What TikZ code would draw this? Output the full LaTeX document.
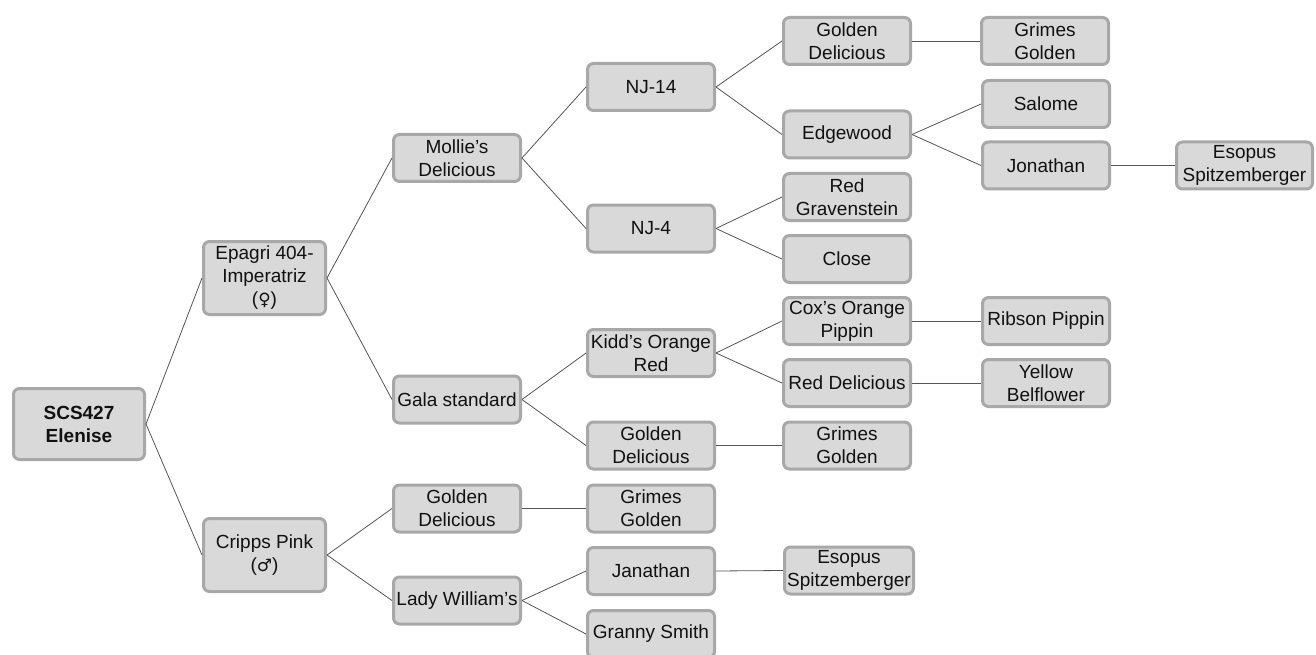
\documentclass[tikz,border=0pt]{standalone}
\usepackage{fontspec}
\setmainfont{Liberation Sans}
\newfontfamily\symfont{DejaVu Sans}
\definecolor{boxfill}{HTML}{D9D9D9}
\definecolor{boxdraw}{HTML}{A8A8A8}
\definecolor{txt}{HTML}{111111}
\definecolor{edge}{HTML}{555555}
\tikzset{
  box/.style={draw=boxdraw, fill=boxfill, line width=3pt, rounded corners=6pt,
    minimum width=127pt, minimum height=47pt, inner sep=0pt, align=center,
    text=txt, font=\fontsize{19pt}{23pt}\selectfont},
  rootbox/.style={box, minimum width=131pt, minimum height=71pt, font=\fontsize{19pt}{23pt}\selectfont\bfseries},
  lonebox/.style={box, minimum width=122pt, minimum height=73pt},
  widebox/.style={box, minimum width=136pt},
  link/.style={draw=edge, line width=0.8pt}
}
\begin{document}
\begin{tikzpicture}[x=1pt, y=-1pt]
\useasboundingbox (0,0) rectangle (1316,655);
% level 0
\node[rootbox] (root) at (79,424) {SCS427\\Elenise};
% level 1
\node[lonebox] (epagri) at (264.5,278) {Epagri 404-\\Imperatriz\\({\symfont\fontsize{17pt}{23pt}\selectfont ♀})};
\node[lonebox] (cripps) at (264.5,555) {Cripps Pink\\({\symfont\fontsize{17pt}{23pt}\selectfont ♂})};
% level 2
\node[box] (mollie) at (457,158) {Mollie’s\\Delicious};
\node[box] (gala) at (457,399.5) {Gala standard};
\node[box] (gd2) at (457,508.5) {Golden\\Delicious};
\node[box] (lady) at (457,600.5) {Lady William’s};
% level 3
\node[box] (nj14) at (651,87) {NJ-14};
\node[box] (nj4) at (651,228.5) {NJ-4};
\node[box] (kidd) at (651,353) {Kidd’s Orange\\Red};
\node[box] (gd3) at (651,445.5) {Golden\\Delicious};
\node[box] (gg3) at (651,508.5) {Grimes\\Golden};
\node[box] (janathan) at (651,571) {Janathan};
\node[box] (granny) at (651,634) {Granny Smith};
% level 4
\node[box] (gd4) at (847,41) {Golden\\Delicious};
\node[box] (edgewood) at (847,134.5) {Edgewood};
\node[box] (redgrav) at (847,197) {Red\\Gravenstein};
\node[box] (close) at (847,259) {Close};
\node[box] (cox) at (847,321) {Cox’s Orange\\Pippin};
\node[box] (reddel) at (847,383) {Red Delicious};
\node[box] (gg4) at (847,445.5) {Grimes\\Golden};
\node[box, minimum width=129pt] (esopus4) at (849,570.5) {Esopus\\Spitzemberger};
% level 5
\node[box] (gg5) at (1045,41) {Grimes\\Golden};
\node[box] (salome) at (1046,104) {Salome};
\node[box] (jonathan) at (1046,165.5) {Jonathan};
\node[box] (ribson) at (1046,321) {Ribson Pippin};
\node[box] (yellow) at (1046,383) {Yellow\\Belflower};
% level 6
\node[widebox] (esopus6) at (1244.5,165.5) {Esopus\\Spitzemberger};
% connectors
\draw[link] (root.east) -- (epagri.west);
\draw[link] (root.east) -- (cripps.west);
\draw[link] (epagri.east) -- (mollie.west);
\draw[link] (epagri.east) -- (gala.west);
\draw[link] (cripps.east) -- (gd2.west);
\draw[link] (cripps.east) -- (lady.west);
\draw[link] (mollie.east) -- (nj14.west);
\draw[link] (mollie.east) -- (nj4.west);
\draw[link] (gala.east) -- (kidd.west);
\draw[link] (gala.east) -- (gd3.west);
\draw[link] (gd2.east) -- (gg3.west);
\draw[link] (lady.east) -- (janathan.west);
\draw[link] (lady.east) -- (granny.west);
\draw[link] (nj14.east) -- (gd4.west);
\draw[link] (nj14.east) -- (edgewood.west);
\draw[link] (nj4.east) -- (redgrav.west);
\draw[link] (nj4.east) -- (close.west);
\draw[link] (kidd.east) -- (cox.west);
\draw[link] (kidd.east) -- (reddel.west);
\draw[link] (gd3.east) -- (gg4.west);
\draw[link] (janathan.east) -- (esopus4.west);
\draw[link] (gd4.east) -- (gg5.west);
\draw[link] (edgewood.east) -- (salome.west);
\draw[link] (edgewood.east) -- (jonathan.west);
\draw[link] (cox.east) -- (ribson.west);
\draw[link] (reddel.east) -- (yellow.west);
\draw[link] (jonathan.east) -- (esopus6.west);
\end{tikzpicture}
\end{document}
